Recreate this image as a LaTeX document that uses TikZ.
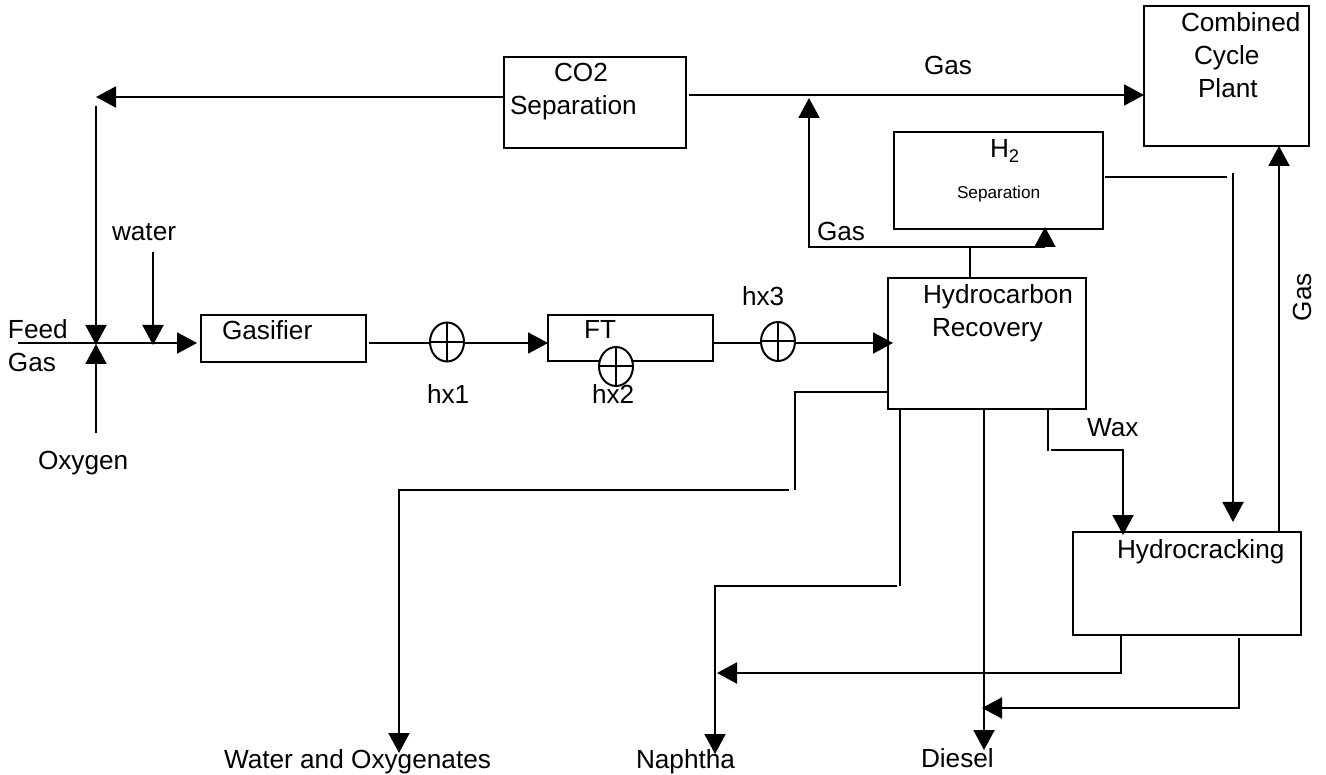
\documentclass[tikz,border=0pt]{standalone}
\usepackage{fontspec}
\setmainfont{Liberation Sans}
\usetikzlibrary{arrows.meta,shapes.geometric}
\tikzset{
  x=1pt,y=-1pt,
  every path/.style={line width=2pt},
  proc/.style={draw,rectangle,inner sep=0pt,outer sep=0pt,line width=2pt},
  lbl/.style={inner sep=0pt,font=\fontsize{26.2}{30}\selectfont,anchor=base west},
  arr/.style={-{Triangle[width=21pt,length=20pt]}}
}
\newcommand{\hxsym}[3]{%
  \node[draw,ellipse,minimum width=34pt,minimum height=39pt,inner sep=0pt,outer sep=0pt,fill=white,line width=2pt] (#1) at (#2,#3) {};
  \draw[line width=2pt] (#1.north) -- (#1.south);
  \draw[line width=2pt] (#1.west) -- (#1.east);
}
\begin{document}
\begin{tikzpicture}
\useasboundingbox (0,0) rectangle (1326,775);
% boxes
\node[proc,minimum width=182pt,minimum height=91pt] (co2) at (595,102.5) {};
\node[proc,minimum width=165pt,minimum height=140pt] (cc) at (1226.5,76) {};
\node[proc,minimum width=209pt,minimum height=97pt] (h2) at (998.5,180.5) {};
\node[proc,minimum width=198pt,minimum height=131pt] (hc) at (987,343.5) {};
\node[proc,minimum width=228pt,minimum height=103pt] (crack) at (1187,583.5) {};
\node[proc,minimum width=165pt,minimum height=47pt] (gas) at (283.5,338.5) {};
\node[proc,minimum width=165pt,minimum height=46pt] (ft) at (630.5,338) {};
% heat exchangers
\hxsym{hxa}{447}{342}
\hxsym{hxb}{616}{366.5}
\hxsym{hxc}{778}{341.5}
% labels
\node[lbl] (t1) at (553,82) {CO2};
\node[lbl] (t2) at (509,115) {Separation};
\node[lbl] (t3) at (923,75) {Gas};
\node[lbl] (t4) at (1180,32) {Combined};
\node[lbl] (t5) at (1193,65) {Cycle};
\node[lbl] (t6) at (1197,98) {Plant};
\node[lbl] (t7) at (989,158) {H\textsubscript{2}};
\node[lbl,font=\fontsize{17.2}{20}\selectfont] (t8) at (956,199) {Separation};
\node[lbl] (t9) at (816,241) {Gas};
\node[lbl] (t10) at (111,241) {water};
\node[lbl] (t11) at (7,339) {Feed};
\node[lbl] (t12) at (7,372) {Gas};
\node[lbl] (t13) at (37,470) {Oxygen};
\node[lbl] (t14) at (221,340) {Gasifier};
\node[lbl] (t15) at (426,404) {hx1};
\node[lbl] (t16) at (583,339) {FT};
\node[lbl] (t17) at (591,404) {hx2};
\node[lbl] (t18) at (741,306) {hx3};
\node[lbl] (t19) at (922,304) {Hydrocarbon};
\node[lbl] (t20) at (931,337) {Recovery};
\node[lbl] (t21) at (1086,437) {Wax};
\node[lbl,rotate=90,anchor=base] (t22) at (1311,297) {Gas};
\node[lbl] (t23) at (1116,558) {Hydrocracking};
\node[lbl] (t24) at (223,768) {Water and Oxygenates};
\node[lbl] (t25) at (635,768) {Naphtha};
\node[lbl] (t26) at (920,767) {Diesel};
% junction coordinates
\coordinate (mixtop) at (96,345);
\coordinate (mixbot) at (96,344);
\coordinate (co2end) at (96,97);
\coordinate (co2down) at (96,106);
\coordinate (co2left) at (504,97);
\coordinate (co2right) at (689,95);
\coordinate (ccin) at (1144,95);
\coordinate (gtop) at (809,98);
\coordinate (gcorner) at (809,247);
\coordinate (gturn) at (1045,247);
\coordinate (h2in) at (1045,227);
\coordinate (hctop) at (970,278);
\coordinate (hcjoin) at (970,247);
\coordinate (h2out) at (1105,177);
\coordinate (h2outend) at (1227,177);
\coordinate (hydro1) at (1233,173);
\coordinate (hydro2) at (1233,522);
\coordinate (crackup) at (1279,531);
\coordinate (ccbot) at (1279,146);
\coordinate (feed) at (18,343);
\coordinate (gasin) at (197,343);
\coordinate (watertop) at (153,252);
\coordinate (waterend) at (153,345);
\coordinate (oxy) at (96,433);
\coordinate (gasout) at (369,343);
\coordinate (ftin) at (548,343);
\coordinate (ftout) at (713,343);
\coordinate (hcin) at (893,343);
\coordinate (w1) at (888,392);
\coordinate (w2) at (795,392);
\coordinate (w3) at (795,490);
\coordinate (w4) at (789,490);
\coordinate (w5) at (399,490);
\coordinate (w6) at (399,753);
\coordinate (n1) at (900,409);
\coordinate (n2) at (900,586);
\coordinate (n3) at (897,586);
\coordinate (n4) at (715,586);
\coordinate (n5) at (715,754);
\coordinate (d1) at (984,409);
\coordinate (d2) at (984,750);
\coordinate (wx1) at (1048,409);
\coordinate (wx2) at (1048,451);
\coordinate (wx3) at (1051,450);
\coordinate (wx4) at (1123,450);
\coordinate (wx5) at (1123,535);
\coordinate (c1) at (1121,635);
\coordinate (c2) at (1121,673);
\coordinate (c3) at (717,673);
\coordinate (e1) at (1239,638);
\coordinate (e2) at (1239,708);
\coordinate (e3) at (982,708);
% connectors
\draw[arr] (co2left) -- (co2end);
\draw[arr] (co2down) -- (mixtop);
\draw[arr] (co2right) -- (ccin);
\draw[arr] (gturn) -- (gcorner) -- (gtop);
\draw[arr] (gturn) -- (h2in);
\draw (hctop) -- (hcjoin);
\draw (h2out) -- (h2outend);
\draw[arr] (hydro1) -- (hydro2);
\draw[arr] (crackup) -- (ccbot);
\draw[arr] (feed) -- (gasin);
\draw[arr] (watertop) -- (waterend);
\draw[arr] (oxy) -- (mixbot);
\draw (gasout) -- (gasout -| hxa.west);
\draw[arr] (ftin -| hxa.east) -- (ftin);
\draw (ftout) -- (ftout -| hxc.west);
\draw[arr] (hcin -| hxc.east) -- (hcin);
\draw (w1) -- (w2) -- (w3);
\draw[arr] (w4) -- (w5) -- (w6);
\draw (n1) -- (n2);
\draw[arr] (n3) -- (n4) -- (n5);
\draw[arr] (d1) -- (d2);
\draw (wx1) -- (wx2);
\draw[arr] (wx3) -- (wx4) -- (wx5);
\draw[arr] (c1) -- (c2) -- (c3);
\draw[arr] (e1) -- (e2) -- (e3);
\end{tikzpicture}
\end{document}
